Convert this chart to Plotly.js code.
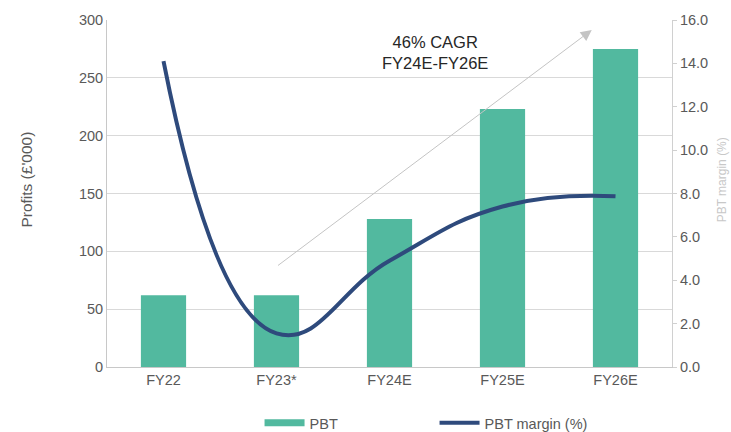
<!DOCTYPE html>
<html>
<head>
<meta charset="utf-8">
<script src="https://cdn.plot.ly/plotly-3.0.1.min.js"></script>
<style>
  html, body { margin: 0; padding: 0; background: #ffffff; }
  #chart { width: 731px; height: 432px; }
</style>
</head>
<body>
<div id="chart"></div>
<script>
const categories = ["FY22", "FY23*", "FY24E", "FY25E", "FY26E"];
const pbt = [62, 62, 128, 223, 275];
const pbtMargin = [14.1, 1.55, 4.9, 7.4, 7.87];
const seriesNames = ["PBT", "PBT margin (%)"];
const leftTitle = "Profits (£'000)";
const rightTitle = "PBT margin (%)";
const cagrText = "46% CAGR<br>FY24E-FY26E";

const green = "#52B99F";
const navy = "#2E4A7C";
const grey = "#595959";
const gridC = "#d9d9d9";
const fontFam = "Arial, 'Liberation Sans', sans-serif";

const traces = [
  {
    type: "bar", x: categories, y: pbt, name: seriesNames[0],
    marker: { color: green }, width: 0.4, showlegend: false, yaxis: "y"
  },
  {
    type: "scatter", mode: "lines", x: [null], y: [null], name: seriesNames[0],
    line: { color: green, width: 7 }, showlegend: true, hoverinfo: "skip"
  },
  {
    type: "scatter", mode: "lines", x: categories, y: pbtMargin, name: seriesNames[1],
    line: { color: navy, width: 4, shape: "spline", smoothing: 1.3 }, yaxis: "y2"
  }
];

const layout = {
  width: 731, height: 432,
  margin: { l: 107, r: 59, t: 20, b: 64.5, autoexpand: false },
  paper_bgcolor: "#ffffff", plot_bgcolor: "#ffffff",
  font: { family: fontFam, color: grey, size: 14.5 },
  showlegend: true,
  xaxis: {
    type: "category", showgrid: false, showline: true, linecolor: "#c8c8c8", linewidth: 1,
    ticks: "", tickfont: { size: 14.5, color: grey }, fixedrange: true
  },
  yaxis: {
    range: [0, 300], dtick: 50, showgrid: true, gridcolor: gridC, gridwidth: 1,
    showline: true, linecolor: "#c8c8c8", ticks: "", zeroline: false,
    tickfont: { size: 14.5, color: grey }
  },
  yaxis2: {
    overlaying: "y", side: "right", range: [0, 16], dtick: 2, tickformat: ".1f",
    showgrid: false, showline: true, linecolor: "#d0d0d0", zeroline: false,
    ticks: "outside", ticklen: 4, tickcolor: "#d0d0d0",
    tickfont: { size: 14.5, color: grey }
  },
  legend: {
    orientation: "h", x: 0.27, xanchor: "left", yref: "container", y: 0.021, yanchor: "middle",
    font: { size: 14.5, color: grey }, itemwidth: 40, entrywidth: 120, entrywidthmode: "pixels",
    bgcolor: "rgba(0,0,0,0)"
  },
  annotations: [
    {
      xref: "x", yref: "y", axref: "x", ayref: "y",
      x: 3.79, y: 291.4, ax: 1.0, ay: 86.8,
      text: "", showarrow: true, arrowhead: 2, arrowsize: 2.2, arrowwidth: 1, arrowcolor: "#c4c4c4"
    },
    {
      xref: "x", yref: "y", x: 2.4, y: 272, text: cagrText, showarrow: false,
      font: { size: 16.5, color: "#262626" }, align: "center", xanchor: "center", yanchor: "middle"
    },
    {
      xref: "paper", yref: "paper", x: -0.1416, y: 0.54, text: leftTitle, textangle: -90,
      showarrow: false, font: { size: 15.5, color: grey }, xanchor: "center", yanchor: "middle"
    },
    {
      xref: "paper", yref: "paper", x: 1.088, y: 0.54, text: rightTitle, textangle: -90,
      showarrow: false, font: { size: 12, color: "#c8c8c8" }, xanchor: "center", yanchor: "middle"
    }
  ]
};

Plotly.newPlot("chart", traces, layout, { displayModeBar: false, staticPlot: true });
</script>
</body>
</html>
